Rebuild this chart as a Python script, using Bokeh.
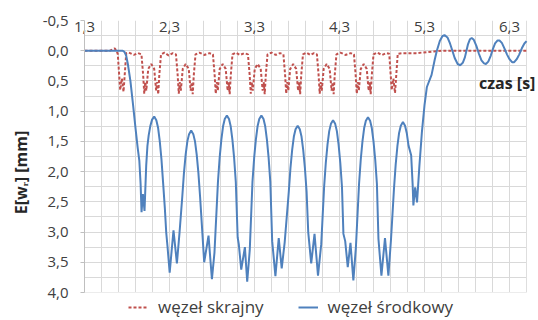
from bokeh.plotting import figure
from bokeh.models import (Range1d, FixedTicker, CustomJSTickFormatter, Legend,
                          LegendItem, Label, ColumnDataSource, BoxAnnotation)
from bokeh.embed import file_html
from bokeh.resources import INLINE

# ---------------- data ----------------
x_tick_values = [1.3, 2.3, 3.3, 4.3, 5.3, 6.3]
y_tick_values = [-0.5, 0.0, 0.5, 1.0, 1.5, 2.0, 2.5, 3.0, 3.5, 4.0]

series_names = ["węzeł skrajny", "węzeł środkowy"]

# węzeł skrajny (edge node) - red dashed
red_t = [1.30, 1.60, 1.655, 1.675,
         1.691, 1.720, 1.740, 1.759, 1.791,
         1.82, 1.88, 1.93,
         1.970, 1.990, 2.003, 2.015, 2.027, 2.050, 2.085, 2.120, 2.143, 2.155, 2.167, 2.180, 2.200,
         2.24, 2.29, 2.34,
         2.376, 2.396, 2.409, 2.421, 2.433, 2.456, 2.491, 2.526, 2.549, 2.561, 2.573, 2.586, 2.606,
         2.65, 2.71, 2.77,
         2.811, 2.831, 2.844, 2.856, 2.868, 2.891, 2.926, 2.961, 2.984, 2.996, 3.008, 3.021, 3.041,
         3.08, 3.13, 3.18,
         3.223, 3.243, 3.256, 3.268, 3.280, 3.303, 3.338, 3.373, 3.396, 3.408, 3.420, 3.433, 3.453,
         3.50, 3.55, 3.60,
         3.640, 3.660, 3.673, 3.685, 3.697, 3.720, 3.755, 3.790, 3.813, 3.825, 3.837, 3.850, 3.870,
         3.91, 3.96, 4.00,
         4.034, 4.054, 4.067, 4.079, 4.091, 4.114, 4.149, 4.184, 4.207, 4.219, 4.231, 4.244, 4.264,
         4.31, 4.37, 4.43,
         4.470, 4.490, 4.503, 4.515, 4.527, 4.550, 4.585, 4.620, 4.643, 4.655, 4.667, 4.680, 4.700,
         4.74, 4.80, 4.85,
         4.885, 4.914, 4.934, 4.953, 4.985,
         5.05, 5.20, 5.35, 5.50, 6.50]
red_v = [0.00, 0.00, -0.04, 0.00,
         0.05, 0.65, 0.46, 0.68, 0.04,
         0.03, 0.07, 0.04,
         0.06, 0.40, 0.71, 0.52, 0.66, 0.30, 0.22, 0.30, 0.66, 0.52, 0.72, 0.40, 0.06,
         0.03, 0.08, 0.04,
         0.06, 0.40, 0.71, 0.52, 0.66, 0.30, 0.22, 0.30, 0.66, 0.52, 0.72, 0.40, 0.06,
         0.03, 0.07, 0.04,
         0.06, 0.40, 0.71, 0.52, 0.66, 0.30, 0.22, 0.30, 0.66, 0.52, 0.72, 0.40, 0.06,
         0.03, 0.07, 0.04,
         0.06, 0.40, 0.71, 0.52, 0.66, 0.30, 0.22, 0.30, 0.66, 0.52, 0.72, 0.40, 0.06,
         0.03, 0.07, 0.04,
         0.06, 0.40, 0.71, 0.52, 0.66, 0.30, 0.22, 0.30, 0.66, 0.52, 0.72, 0.40, 0.06,
         0.03, 0.07, 0.04,
         0.06, 0.40, 0.71, 0.52, 0.66, 0.30, 0.22, 0.30, 0.66, 0.52, 0.72, 0.40, 0.06,
         0.03, 0.07, 0.04,
         0.06, 0.40, 0.71, 0.52, 0.66, 0.30, 0.22, 0.30, 0.66, 0.52, 0.72, 0.40, 0.06,
         0.03, 0.07, 0.04,
         0.05, 0.65, 0.46, 0.70, 0.05,
         0.04, 0.04, 0.02, 0.00, 0.00]

# węzeł środkowy (middle node) - blue solid
blue_t = [1.30, 1.50, 1.70, 1.75, 1.77, 1.79, 1.81, 1.84, 1.87, 1.90, 1.925, 1.945, 1.960,
          1.971, 1.987, 2.006, 2.026, 2.040, 2.055, 2.075, 2.095, 2.120, 2.145, 2.165, 2.185,
          2.205, 2.225, 2.245,
          2.261, 2.276, 2.302, 2.347, 2.387, 2.418,
          2.450, 2.470, 2.490, 2.510, 2.530, 2.555, 2.580, 2.600, 2.620, 2.640, 2.660,
          2.681, 2.708, 2.759, 2.799, 2.829,
          2.870, 2.890, 2.910, 2.930, 2.950, 2.975, 3.000, 3.020, 3.040, 3.060, 3.080,
          3.102, 3.115, 3.144, 3.187, 3.214, 3.244,
          3.276, 3.296, 3.316, 3.336, 3.356, 3.381, 3.406, 3.426, 3.446, 3.466, 3.486,
          3.508, 3.546, 3.585, 3.620, 3.655,
          3.703, 3.723, 3.743, 3.763, 3.783, 3.808, 3.833, 3.853, 3.873, 3.893, 3.913,
          3.932, 3.967, 4.006, 4.047, 4.085,
          4.119, 4.139, 4.159, 4.179, 4.199, 4.224, 4.249, 4.269, 4.289, 4.309, 4.329,
          4.346, 4.367, 4.397, 4.429, 4.463, 4.493,
          4.530, 4.550, 4.570, 4.590, 4.610, 4.635, 4.660, 4.680, 4.700, 4.720, 4.740,
          4.758, 4.793, 4.835, 4.875, 4.905,
          4.941, 4.961, 4.981, 5.001, 5.021, 5.046, 5.071, 5.091, 5.112, 5.143, 5.160,
          5.169, 5.190, 5.212, 5.240, 5.269, 5.300, 5.328, 5.383, 5.420, 5.445, 5.480,
          5.510, 5.535, 5.570, 5.600, 5.628, 5.655, 5.690, 5.720, 5.750, 5.775, 5.790,
          5.810, 5.835, 5.855, 5.880, 5.910, 5.940, 5.970, 6.000, 6.022, 6.050, 6.080,
          6.105, 6.130, 6.160, 6.182, 6.210, 6.240, 6.270, 6.300, 6.330, 6.355, 6.385,
          6.415, 6.445, 6.475, 6.500]
blue_v = [0.00, 0.00, 0.00, 0.00, 0.02, 0.08, 0.22, 0.50, 0.88, 1.28, 1.60, 1.82, 2.20,
          2.67, 2.37, 2.65, 1.90, 1.58, 1.40, 1.24, 1.14, 1.09, 1.15, 1.27, 1.49,
          1.79, 2.19, 2.60,
          3.00, 3.23, 3.67, 2.97, 3.52, 3.01,
          2.42, 2.02, 1.72, 1.50, 1.38, 1.32, 1.38, 1.50, 1.72, 2.02, 2.42,
          2.89, 3.50, 3.06, 3.78, 3.34,
          2.17, 1.77, 1.47, 1.25, 1.13, 1.07, 1.13, 1.25, 1.47, 1.77, 2.17,
          3.09, 3.20, 3.62, 3.25, 3.82, 3.30,
          2.17, 1.77, 1.47, 1.25, 1.13, 1.07, 1.13, 1.25, 1.47, 1.77, 2.17,
          3.15, 3.73, 3.10, 3.60, 3.17,
          2.34, 1.94, 1.64, 1.42, 1.30, 1.24, 1.30, 1.42, 1.64, 1.94, 2.34,
          3.00, 3.52, 3.03, 3.72, 3.20,
          2.25, 1.85, 1.55, 1.33, 1.21, 1.15, 1.21, 1.33, 1.55, 1.85, 2.25,
          3.03, 3.15, 3.58, 3.18, 3.80, 3.25,
          2.20, 1.80, 1.50, 1.28, 1.16, 1.10, 1.16, 1.28, 1.50, 1.80, 2.20,
          3.11, 3.72, 3.10, 3.72, 3.14,
          2.28, 1.88, 1.58, 1.36, 1.24, 1.18, 1.24, 1.36, 1.57, 1.73, 2.20,
          2.56, 2.26, 2.51, 1.90, 1.35, 0.90, 0.60, 0.40, 0.15, 0.00, -0.16,
          -0.24, -0.26, -0.22, -0.12, 0.00, 0.12, 0.22, 0.24, 0.20, 0.11, 0.02,
          -0.10, -0.19, -0.21, -0.18, -0.08, 0.05, 0.16, 0.21, 0.22, 0.18, 0.08,
          -0.03, -0.12, -0.17, -0.17, -0.13, -0.04, 0.06, 0.14, 0.19, 0.19, 0.14,
          0.06, -0.04, -0.12, -0.16]

# ---------------- figure ----------------
FONT = "Open Sans"
TXT = "#404040"
GRID = "#d9d9d9"

X_LEFT, X_RIGHT = 1.3, 6.5
Y_TOP, Y_BOTTOM = -0.5, 4.0
# the frame runs on past the plotted area (right: room for "czas [s]",
# bottom: room for the legend); white bands hide the grid there
X_ROOM = 0.141
Y_ROOM = 0.463

p = figure(frame_width=454, frame_height=300, output_backend="svg",
           toolbar_location=None, x_range=Range1d(X_LEFT, X_RIGHT + X_ROOM),
           y_range=Range1d(Y_BOTTOM + Y_ROOM, Y_TOP), x_axis_location="above",
           min_border_left=84, min_border_right=0, min_border_top=20,
           min_border_bottom=0, background_fill_color="white",
           border_fill_color="white")
p.outline_line_color = None

fmt = CustomJSTickFormatter(code="return tick.toFixed(1).replace('.', ',');")

# x axis (top)
xa = p.xaxis[0]
xa.ticker = FixedTicker(ticks=x_tick_values)
xa.formatter = fmt
xa.major_tick_out = 0
xa.major_tick_in = 0
xa.minor_tick_out = 0
xa.minor_tick_in = 0
xa.axis_line_color = None
xa.major_label_standoff = -11
xa.major_label_text_font = FONT
xa.major_label_text_font_size = "15px"
xa.major_label_text_color = TXT

# y axis (left)
ya = p.yaxis[0]
ya.ticker = FixedTicker(ticks=y_tick_values)
ya.formatter = fmt
ya.bounds = (Y_TOP, Y_BOTTOM)
ya.major_tick_out = 4
ya.major_tick_in = 0
ya.minor_tick_out = 0
ya.minor_tick_in = 0
ya.axis_line_color = "#bfbfbf"
ya.major_tick_line_color = "#bfbfbf"
ya.major_label_standoff = 12
ya.major_label_text_font = FONT
ya.major_label_text_font_size = "15px"
ya.major_label_text_color = TXT
ya.axis_label = "E[wᵣ]  [mm]"
ya.axis_label_text_font = FONT
ya.axis_label_text_font_size = "16px"
ya.axis_label_text_font_style = "bold"
ya.axis_label_text_color = "#262626"
ya.axis_label_standoff = 8

# grids
p.xgrid.ticker = FixedTicker(ticks=[round(1.3 + 0.2 * i, 2) for i in range(27)])
p.ygrid.ticker = FixedTicker(ticks=[round(-0.5 + 0.25 * i, 2) for i in range(19)])
p.xgrid.grid_line_color = GRID
p.ygrid.grid_line_color = GRID

p.add_layout(BoxAnnotation(top=Y_BOTTOM, fill_color="white", fill_alpha=1.0,
                           line_color=None, level="underlay"))
p.add_layout(BoxAnnotation(left=X_RIGHT + 0.004, fill_color="white", fill_alpha=1.0,
                           line_color=None, level="underlay"))

red_src = ColumnDataSource(dict(t=red_t, v=red_v))
blue_src = ColumnDataSource(dict(t=blue_t, v=blue_v))

r_red = p.line("t", "v", source=red_src, line_color="#c0504d", line_width=2,
               line_dash="3 2")
r_blue = p.line("t", "v", source=blue_src, line_color="#4f81bd", line_width=2)

p.add_layout(Label(x=6.273, y=0.54, text="czas [s]", text_align="center",
                   text_baseline="middle", text_font=FONT,
                   text_font_size="16px", text_font_style="bold",
                   text_color="#262626"))

legend = Legend(items=[LegendItem(label=series_names[0], renderers=[r_red]),
                       LegendItem(label=series_names[1], renderers=[r_blue])],
                orientation="horizontal", location=(44, 2),
                border_line_color=None, background_fill_alpha=0,
                label_text_font=FONT, label_text_font_size="17px",
                label_text_color=TXT, glyph_width=20, glyph_height=16,
                label_standoff=10, spacing=34, padding=2, margin=0,
                label_height=16)
p.add_layout(legend)

open("out.html", "w").write(file_html(p, INLINE))
